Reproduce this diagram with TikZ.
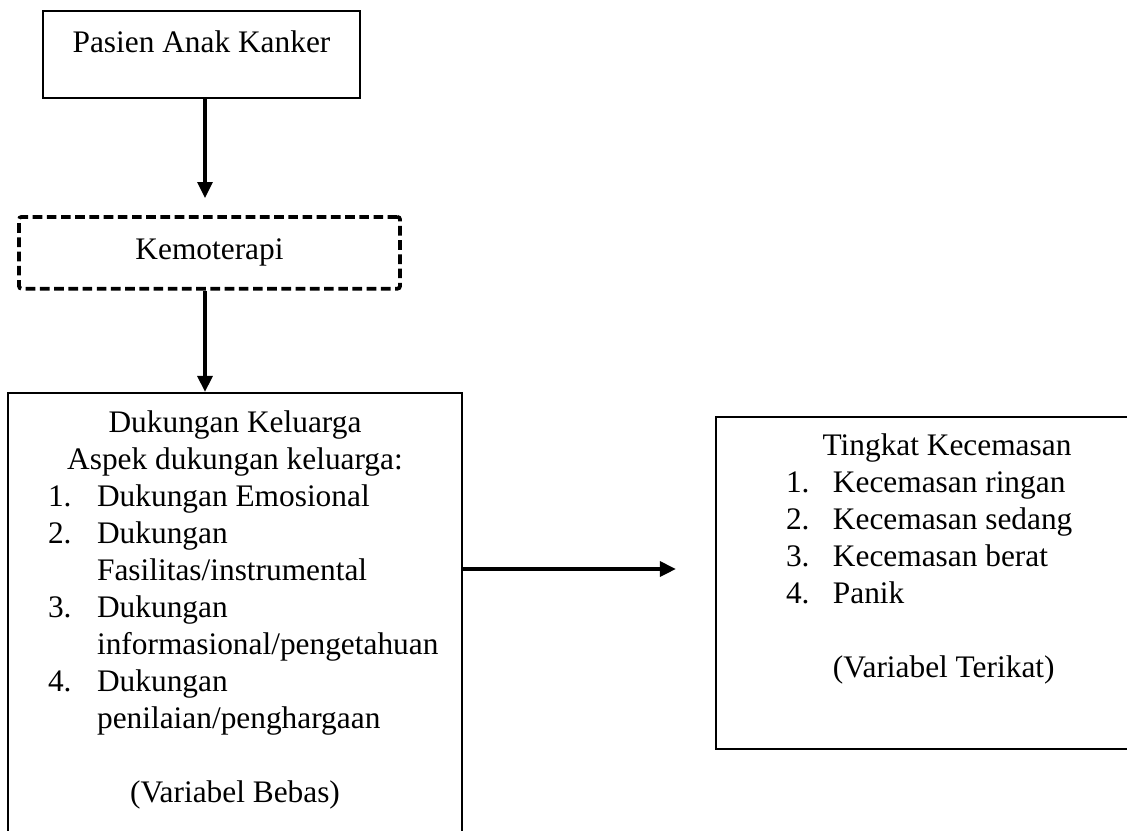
\documentclass[tikz,border=0pt]{standalone}
\usepackage{fontspec}
\setmainfont{Liberation Serif}
\usetikzlibrary{arrows.meta,positioning}

\begin{document}
\begin{tikzpicture}[x=0.3731pt, y=-0.3731pt, >={Triangle[length=6pt,width=5.5pt]},
	kotak/.style={draw, rectangle, line width=0.6pt, inner sep=0pt, anchor=north, font=\fontsize{11.7}{13.8}\selectfont},
	putus/.style={kotak, line width=1.4pt, dash pattern=on 3.6pt off 1.7pt, rounded corners=1pt},
	panah/.style={->, line width=1.4pt}]
	
	\useasboundingbox (0,0) rectangle (1127,830);
	\clip (0,0) rectangle (1127,830);
	
	% Boxes
	\node[kotak, minimum width=118.3pt, text height=15.7pt, text depth=16.8pt] (pasien) at (201.5,10) {Pasien Anak Kanker};
	
	\node[putus, minimum width=142.2pt, text height=16pt, text depth=10.8pt] (kemo) at (209.5,215) {Kemoterapi};
	
	\node[kotak, minimum width=169.4pt, text height=14.9pt, text depth=159.7pt] (dukungan) at (235,392) {%
		\begin{tabular}[t]{@{}p{18.3pt}@{}p{121.2pt}@{}}
			\multicolumn{2}{@{}c@{}}{Dukungan Keluarga}\\
			\multicolumn{2}{@{}c@{}}{Aspek dukungan keluarga:}\\
			1. & Dukungan Emosional\\
			2. & Dukungan\\
			   & Fasilitas/instrumental\\
			3. & Dukungan\\
			   & informasional/pengetahuan\\
			4. & Dukungan\\
			   & penilaian/penghargaan\\
			   & \\
			\multicolumn{2}{@{}c@{}}{(Variabel Bebas)}
		\end{tabular}};
	
	\node[kotak, minimum width=172.3pt, text height=14.6pt, text depth=109.3pt] (cemas) at (947,416) {%
		\begin{tabular}[t]{@{}p{17.5pt}@{}p{102.6pt}@{}}
			\multicolumn{2}{@{}c@{}}{Tingkat Kecemasan}\\
			1. & Kecemasan ringan\\
			2. & Kecemasan sedang\\
			3. & Kecemasan berat\\
			4. & Panik\\
			   & \\
			   & (Variabel Terikat)
		\end{tabular}};
	
	% connections
	\coordinate (ujung) at (676,569);
	
	\draw[panah, shorten >=6.3pt] (pasien.south -| 205,0) -- (kemo.north -| 205,0);
	\draw[panah] (kemo.south -| 205,0) -- (dukungan.north -| 205,0);
	\draw[panah] (dukungan.east |- ujung) -- (ujung);
\end{tikzpicture}
\end{document}
